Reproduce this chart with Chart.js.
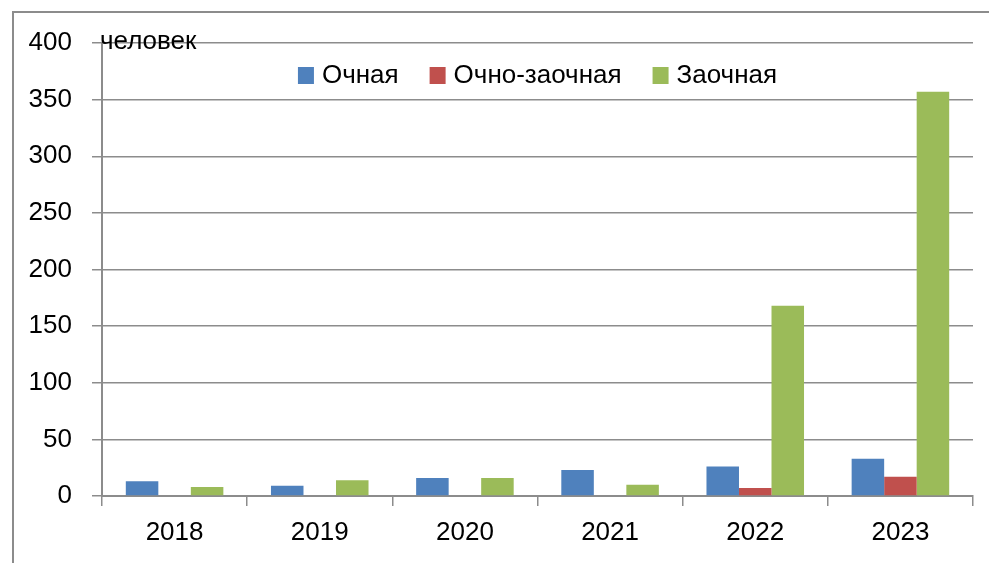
<!DOCTYPE html>
<html>
<head>
<meta charset="utf-8">
<script src="https://cdn.jsdelivr.net/npm/chart.js@4.4.1/dist/chart.umd.min.js"></script>
<style>
  html, body { margin: 0; padding: 0; background: #fff; }
  body { width: 989px; height: 563px; position: relative; overflow: hidden; }
  #frame { position: absolute; left: 12px; top: 11px; width: 1200px; height: 800px; border: 2px solid #8c8c8c; box-sizing: border-box; }
  #wrap { position: absolute; left: 0; top: 0; width: 989px; height: 563px; }
</style>
</head>
<body>
<div id="frame"></div>
<div id="wrap"><canvas id="c" width="989" height="563"></canvas></div>
<script>
const categories = ['2018', '2019', '2020', '2021', '2022', '2023'];
const seriesNames = ['Очная', 'Очно-заочная', 'Заочная'];
const ochnaya = [13, 9, 16, 23, 26, 33];
const ochnoZaochnaya = [0, 0, 0, 0, 7, 17];
const zaochnaya = [8, 14, 16, 10, 168, 357];
const yTicks = [0, 50, 100, 150, 200, 250, 300, 350, 400];
const unitLabel = 'человек';
const colors = ['#4F81BD', '#C0504D', '#9BBB59'];

const FONT = '"Liberation Sans", Arial, sans-serif';
const FS = 26;

const legendPlugin = {
  id: 'inlineLegend',
  afterDraw(chart) {
    const ctx = chart.ctx;
    const area = chart.chartArea;
    ctx.save();
    ctx.font = FS + 'px ' + FONT;
    ctx.textBaseline = 'middle';
    ctx.textAlign = 'left';
    const box = 16, gapBoxText = 8, gapItems = 31;
    const items = chart.data.datasets.map(d => ({ label: d.label, color: d.backgroundColor, w: box + gapBoxText + ctx.measureText(d.label).width }));
    const total = items.reduce((s, it) => s + it.w, 0) + gapItems * (items.length - 1);
    let x = (area.left + area.right) / 2 - total / 2;
    const cy = area.top + 32;
    items.forEach(it => {
      ctx.fillStyle = it.color;
      ctx.fillRect(x, cy - box / 2, box, box + 1);
      ctx.fillStyle = '#000';
      ctx.fillText(it.label, x + box + gapBoxText, cy + 1);
      x += it.w + gapItems;
    });
    const ys = chart.scales.y;
    ctx.fillText(unitLabel, area.left - 2, ys.getPixelForValue(yTicks[yTicks.length - 1]) - 1);
    ctx.restore();
  }
};

new Chart(document.getElementById('c'), {
  type: 'bar',
  data: {
    labels: categories,
    datasets: [
      { label: seriesNames[0], data: ochnaya, backgroundColor: colors[0] },
      { label: seriesNames[1], data: ochnoZaochnaya, backgroundColor: colors[1] },
      { label: seriesNames[2], data: zaochnaya, backgroundColor: colors[2] }
    ]
  },
  options: {
    responsive: false,
    animation: false,
    devicePixelRatio: 1,
    layout: { padding: { top: 43, right: 16, left: 0, bottom: 0 } },
    datasets: { bar: { categoryPercentage: 0.672, barPercentage: 1.0 } },
    plugins: { legend: { display: false }, tooltip: { enabled: false } },
    scales: {
      x: {
        offset: true,
        grid: { offset: true, drawOnChartArea: false, drawTicks: true, tickLength: 10, color: '#8c8c8c', lineWidth: 1.5 },
        border: { color: '#8c8c8c', width: 2 },
        ticks: { color: '#000', font: { family: FONT, size: FS }, padding: 11 },
        afterFit(s) { s.height = 67; }
      },
      y: {
        min: 0, max: 400,
        afterBuildTicks(s) { s.ticks = yTicks.map(v => ({ value: v })); },
        grid: { color: '#8c8c8c', lineWidth: 1.5, drawTicks: true, tickLength: 10 },
        border: { color: '#8c8c8c', width: 2 },
        ticks: { color: '#000', font: { family: FONT, size: FS }, padding: 20 },
        afterFit(s) { s.width = 102; }
      }
    }
  },
  plugins: [legendPlugin]
});
</script>
</body>
</html>
